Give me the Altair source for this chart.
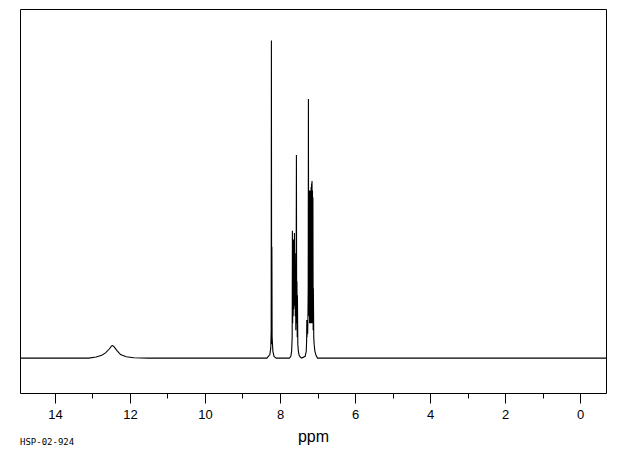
import altair as alt
import pandas as pd

# chemical shift (ppm) and intensity, in trace order
ppm = [
    14.93, 13.1, 12.9, 12.75, 12.65, 12.55, 12.49, 12.46, 12.42, 12.35, 12.25, 12.1, 11.9,
    11.5, 8.35, 8.27, 8.245, 8.235, 8.229, 8.222, 8.216, 8.21, 8.19, 8.16, 8.1,
    7.75, 7.71, 7.69, 7.675, 7.669, 7.662, 7.655, 7.648, 7.64, 7.632, 7.625, 7.618,
    7.615, 7.608, 7.6, 7.592, 7.585, 7.578, 7.57, 7.562, 7.555, 7.548, 7.54, 7.535,
    7.525, 7.51, 7.49, 7.46, 7.42,
    7.33, 7.30, 7.29, 7.285, 7.28, 7.27, 7.262, 7.255, 7.248, 7.242, 7.236,
    7.23, 7.224, 7.218, 7.212, 7.206, 7.2, 7.194, 7.188, 7.182, 7.176, 7.17, 7.164,
    7.158, 7.152, 7.146, 7.14, 7.134, 7.128, 7.122, 7.116, 7.11, 7.1, 7.09, 7.07,
    7.04, 7.0, -0.69,
]
intensity = [
    0.0, 0.0, 0.3, 0.8, 1.5, 2.6, 3.5, 3.6, 3.2, 2.2, 1.0, 0.4, 0.1,
    0.0, 0.0, 1.0, 3.0, 8.0, 91.0, 4.0, 31.9, 6.0, 2.0, 0.5, 0.0,
    0.0, 0.5, 2.0, 6.0, 36.5, 10.0, 30.0, 12.0, 34.0, 14.0, 28.0, 20.0,
    35.8, 15.0, 30.0, 12.0, 25.0, 8.0, 20.0, 58.2, 10.0, 22.0, 6.0, 18.0,
    4.0, 2.0, 0.8, 0.3, 0.0,
    0.5, 2.0, 5.0, 10.9, 6.0, 9.0, 7.0, 12.0, 20.0, 74.2, 15.0,
    45.0, 12.0, 48.0, 10.0, 47.0, 12.0, 48.0, 10.0, 47.0, 12.0, 49.0, 10.0,
    50.0, 12.0, 50.7, 10.0, 48.0, 12.0, 46.0, 8.0, 20.0, 6.0, 4.0, 2.0,
    0.8, 0.0, 0.0,
]

all_ticks = list(range(0, 15))

df = pd.DataFrame({"ppm": ppm, "intensity": intensity, "idx": range(len(ppm))})

line = alt.Chart(df).mark_line(color="black", strokeWidth=1.1, clip=True).encode(
    x=alt.X(
        "ppm:Q",
        scale=alt.Scale(domain=[-0.69, 14.93], reverse=True, nice=False, zero=False),
        axis=alt.Axis(
            values=all_ticks,
            title="ppm",
            grid=False,
            domain=False,
            tickColor="black",
            tickWidth=1,
            tickSize={"condition": {"test": "datum.value % 2 === 0", "value": 10}, "value": 5},
            labelExpr="datum.value % 2 === 0 ? datum.label : ''",
            labelFont="Liberation Sans",
            labelFontSize=13,
            labelColor="black",
            labelPadding=5,
            labelFlush=False,
            titleFont="Liberation Sans",
            titleFontSize=16,
            titleFontWeight="normal",
            titleColor="black",
            titlePadding=7,
        ),
    ),
    y=alt.Y(
        "intensity:Q",
        scale=alt.Scale(domain=[-10, 100], nice=False, zero=False),
        axis=None,
    ),
    order="idx:Q",
)

chart = line.properties(
    width=586,
    height=384,
    autosize="none",
    padding={"left": 12, "top": 1, "right": 6, "bottom": 54},
    title=alt.TitleParams(
        text="HSP-02-924",
        orient="bottom",
        anchor="start",
        font="DejaVu Sans Mono",
        fontSize=9,
        fontWeight="normal",
        color="black",
        offset=-6,
    ),
).configure_view(stroke="black", strokeWidth=1)

chart.save("out.html", embed_options={"renderer": "svg", "actions": False})
